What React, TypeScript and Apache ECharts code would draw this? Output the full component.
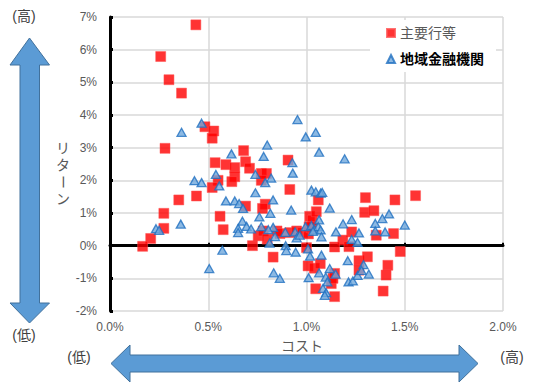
import React, { useEffect, useRef } from "react";
import * as echarts from "echarts";

const xTicks = [0, 0.5, 1.0, 1.5, 2.0];
const yTicks = [-2, -1, 0, 1, 2, 3, 4, 5, 6, 7];
const seriesNames = ["主要行等", "地域金融機関"];

// 主要行等: [cost %, return %]
const majorBanks: number[][] = [
  [0.437, 6.76], [0.258, 5.79], [0.30, 5.08], [0.364, 4.67], [0.483, 3.64], [0.528, 3.51], [0.52, 3.29], [0.28, 2.98],
  [0.68, 2.91], [0.535, 2.54], [0.59, 2.48], [0.635, 2.39], [0.69, 2.57], [0.71, 2.37], [0.906, 2.62], [0.77, 2.21],
  [0.796, 2.21], [0.77, 2.0], [0.55, 2.0], [0.635, 2.11], [0.62, 1.96], [0.52, 1.78], [0.915, 1.72], [0.35, 1.40],
  [0.44, 1.52], [0.274, 0.99], [0.69, 1.21], [0.79, 1.27], [0.776, 1.14], [0.56, 0.90], [0.274, 0.53], [0.207, 0.22],
  [0.166, -0.02], [0.576, 0.49], [0.725, 0.0],
  [0.754, 0.3], [0.78, 0.45], [0.80, 0.2], [0.85, 0.45], [0.865, 0.37], [0.915, 0.4], [0.95, 0.45], [0.98, 0.4],
  [1.01, 0.36], [1.025, 0.55],
  [0.83, -0.35], [1.0, -0.06], [1.016, 0.9], [1.03, 0.78], [1.05, 1.04], [1.013, 0.58], [1.06, 1.40], [1.30, 1.47],
  [1.45, 1.40], [1.555, 1.53], [1.296, 1.02], [1.343, 1.07], [1.355, 0.32], [1.443, 0.37], [1.23, 0.42], [1.185, 0.17],
  [1.143, -0.04], [1.216, -0.03], [1.477, -0.18], [1.267, -0.46], [1.31, -0.34], [1.267, -0.75], [1.414, -0.60],
  [1.405, -0.90], [1.39, -1.39], [1.008, -0.62], [1.04, -0.69], [1.07, -0.55], [1.047, -1.32], [1.126, -1.16],
  [1.143, -1.56], [1.135, -1.0], [1.143, -0.85],
];

// 地域金融機関: [cost %, return %]
const regionalBanks: number[][] = [
  [0.466, 3.75], [0.364, 3.47], [0.954, 3.86], [1.047, 3.47], [0.996, 3.33], [0.80, 3.08], [0.618, 2.81], [0.782, 2.73],
  [1.064, 2.86], [1.194, 2.66], [0.539, 2.18], [0.43, 1.99], [0.466, 1.93], [0.556, 1.83], [0.74, 2.18], [0.82, 2.07],
  [0.79, 1.93], [0.928, 2.54], [0.93, 2.22], [0.74, 1.62], [0.59, 1.37], [0.635, 1.37], [0.657, 1.29], [0.677, 1.14],
  [0.83, 1.40], [0.922, 1.09], [0.816, 0.99], [0.76, 0.88], [0.36, 0.66], [0.234, 0.52], [0.25, 0.47], [0.674, 0.75],
  [0.695, 0.59], [0.718, 0.51], [0.652, 0.53], [0.652, 0.40], [0.77, 0.58], [0.83, 0.56], [0.806, 0.49], [0.84, 0.28],
  [0.892, 0.41], [0.942, 0.42], [0.95, 0.24], [0.965, 0.32], [0.995, 0.58], [1.025, 0.62], [1.04, 0.48], [0.812, 0.08],
  [0.572, -0.14], [0.505, -0.70], [0.833, -0.83], [0.864, -1.0], [0.894, 0.0], [0.897, -0.15], [0.945, -0.2],
  [1.008, -0.1], [1.018, -0.32], [1.025, 1.70], [1.047, 1.65], [1.072, 1.61], [1.08, 1.63], [1.011, -0.98],
  [1.118, 1.15], [1.064, 0.79], [1.06, 0.58], [1.072, 0.48], [1.076, 0.27], [1.033, 0.44], [1.186, 0.67], [1.23, 0.8],
  [1.15, 0.42], [1.267, 0.39], [1.35, 0.68], [1.386, 0.83], [1.42, 0.97], [1.35, 0.45], [1.40, 0.42], [1.50, 0.63],
  [1.23, 0.19], [1.26, 0.10], [1.076, -0.29], [1.21, -0.46], [1.29, -0.58], [1.118, -0.70], [1.064, -0.83],
  [1.098, -0.96], [1.106, -1.11], [1.148, -0.87], [1.214, -1.11], [1.236, -1.08], [1.26, -0.91], [1.28, -0.76],
  [1.317, -0.87], [1.084, -1.31], [1.10, -1.44], [1.093, -1.52],
];

const FONT = "'Liberation Sans', 'Noto Sans CJK JP', sans-serif";
const arrowFill = "#5b9bd5";
const arrowStroke = "#41719c";

export default function App() {
  const ref = useRef<HTMLDivElement>(null);
  useEffect(() => {
    if (!ref.current) return;
    const chart = echarts.init(ref.current, null, { renderer: "svg" });
    const option: any = {
      animation: false,
      backgroundColor: "#ffffff",
      textStyle: { fontFamily: FONT },
      grid: { left: 110, right: 33, top: 17, bottom: 73, containLabel: false },
      legend: {
        orient: "vertical",
        left: 370,
        top: 20,
        padding: [6, 12, 6, 16],
        itemGap: 12,
        itemWidth: 8,
        itemHeight: 8,
        backgroundColor: "#ffffff",
        data: [
          { name: seriesNames[0], icon: "rect", textStyle: { color: "#595959", fontSize: 14, fontFamily: FONT } },
          { name: seriesNames[1], icon: "triangle", textStyle: { color: "#000000", fontSize: 14, fontWeight: "bold", fontFamily: FONT } },
        ],
      },
      xAxis: [
        {
          type: "value",
          min: xTicks[0],
          max: xTicks[xTicks.length - 1],
          interval: 0.5,
          position: "bottom",
          axisLine: { show: false, onZero: false },
          axisTick: { show: false },
          axisLabel: {
            margin: 10,
            color: "#595959",
            fontSize: 12,
            fontFamily: FONT,
            formatter: (v: number) => v.toFixed(1) + "%",
          },
          splitLine: { show: true, lineStyle: { color: "#d9d9d9", width: 1.5 } },
        },
        {
          type: "value",
          min: xTicks[0],
          max: xTicks[xTicks.length - 1],
          interval: 0.5,
          position: "bottom",
          axisLine: { show: true, onZero: true, lineStyle: { color: "#000000", width: 3 } },
          axisTick: { show: true, inside: true, length: 3, lineStyle: { color: "#000000", width: 2 } },
          axisLabel: { show: false },
          splitLine: { show: false },
        },
      ],
      yAxis: {
        type: "value",
        min: yTicks[0],
        max: yTicks[yTicks.length - 1],
        interval: 1,
        axisLine: { show: true, onZero: false, lineStyle: { color: "#000000", width: 3 } },
        axisTick: { show: true, inside: true, length: 3, lineStyle: { color: "#000000", width: 3 } },
        axisLabel: {
          margin: 13,
          color: "#595959",
          fontSize: 12,
          fontFamily: FONT,
          formatter: (v: number) => v + "%",
        },
        splitLine: { show: true, lineStyle: { color: "#d9d9d9", width: 1.5 } },
      },
      series: [
        {
          name: seriesNames[0],
          type: "scatter",
          xAxisIndex: 0,
          symbol: "rect",
          symbolSize: 10,
          data: majorBanks,
          itemStyle: { color: "#ff0000", borderColor: "#ff5050", borderWidth: 0.6 },
          z: 3,
        },
        {
          name: seriesNames[1],
          type: "scatter",
          xAxisIndex: 0,
          symbol: "triangle",
          symbolSize: [9, 8],
          data: regionalBanks,
          itemStyle: { color: "#6fa8dc", borderColor: "#1f6fc0", borderWidth: 1.3 },
          z: 4,
        },
      ],
      graphic: [
        {
          type: "polygon",
          shape: {
            points: [
              [29.5, 38], [49.5, 65], [39.5, 65], [39.5, 303], [49.5, 303], [29.5, 323],
              [10, 303], [20, 303], [20, 65], [10, 65],
            ],
          },
          style: { fill: arrowFill, stroke: arrowStroke, lineWidth: 1 },
          z: 1,
        },
        {
          type: "polygon",
          shape: {
            points: [
              [111, 363.5], [130, 345], [130, 355], [459, 355], [459, 345], [478, 363.5],
              [459, 382], [459, 372], [130, 372], [130, 382],
            ],
          },
          style: { fill: arrowFill, stroke: arrowStroke, lineWidth: 1 },
          z: 1,
        },
        { type: "text", x: 24, y: 16, style: { text: "(高)", fill: "#404040", font: `14px ${FONT}`, align: "center", verticalAlign: "middle" }, z: 5 },
        { type: "text", x: 24, y: 335, style: { text: "(低)", fill: "#404040", font: `14px ${FONT}`, align: "center", verticalAlign: "middle" }, z: 5 },
        { type: "text", x: 79, y: 357, style: { text: "(低)", fill: "#404040", font: `14px ${FONT}`, align: "center", verticalAlign: "middle" }, z: 5 },
        { type: "text", x: 512, y: 357, style: { text: "(高)", fill: "#404040", font: `14px ${FONT}`, align: "center", verticalAlign: "middle" }, z: 5 },
        { type: "text", x: 302, y: 346, style: { text: "コスト", fill: "#595959", font: `14px ${FONT}`, align: "center", verticalAlign: "middle" }, z: 5 },
        {
          type: "group",
          x: 63,
          y: 148,
          z: 5,
          children: [
            { type: "text", x: 0, y: 0, style: { text: "リ", fill: "#595959", font: `14px ${FONT}`, align: "center", verticalAlign: "middle" } },
            { type: "text", x: 0, y: 17, style: { text: "タ", fill: "#595959", font: `14px ${FONT}`, align: "center", verticalAlign: "middle" } },
            { type: "text", x: 0, y: 34, rotation: -Math.PI / 2, style: { text: "ー", fill: "#595959", font: `14px ${FONT}`, align: "center", verticalAlign: "middle" } },
            { type: "text", x: 0, y: 51, style: { text: "ン", fill: "#595959", font: `14px ${FONT}`, align: "center", verticalAlign: "middle" } },
          ],
        },
      ],
    };
    chart.setOption(option);
    return () => chart.dispose();
  }, []);
  return (
    <div
      ref={ref}
      style={{ position: "fixed", left: 0, top: 0, width: 536, height: 384, background: "#fff" }}
    />
  );
}
